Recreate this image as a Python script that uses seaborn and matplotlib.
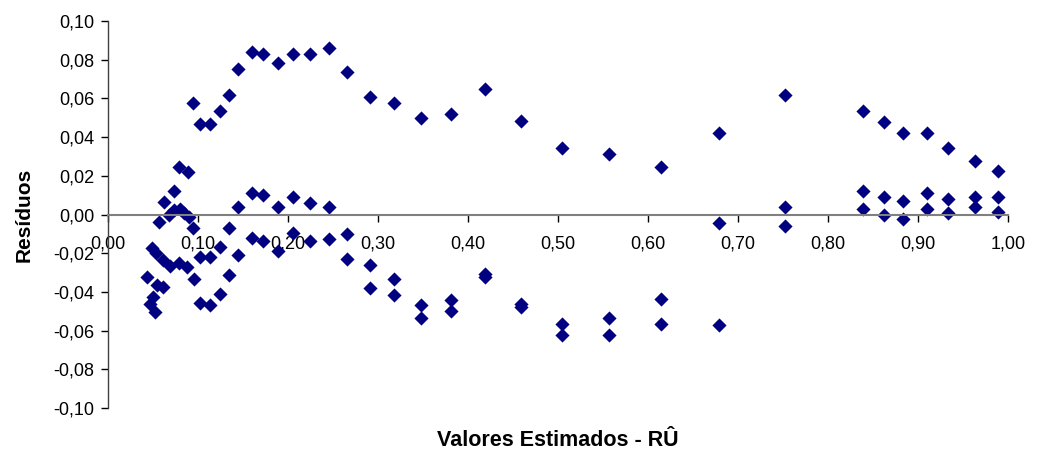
import pandas as pd
import matplotlib
matplotlib.use("Agg")
import matplotlib.pyplot as plt
import seaborn as sns
from matplotlib.ticker import FuncFormatter, MultipleLocator

# valores estimados e residuos
x_sup = [0.0793, 0.0885, 0.094, 0.102, 0.113, 0.124, 0.134, 0.144, 0.160, 0.172, 0.189,
         0.205, 0.224, 0.246, 0.266, 0.291, 0.318, 0.348, 0.381, 0.419, 0.459,
         0.504, 0.557, 0.614, 0.679, 0.752, 0.839, 0.862, 0.884, 0.910, 0.934,
         0.963, 0.989]
res_sup = [0.0246, 0.0221, 0.0577, 0.0467, 0.0467, 0.0537, 0.0615, 0.0753, 0.0841, 0.0829, 0.0784,
           0.0830, 0.0830, 0.0860, 0.0734, 0.0606, 0.0577, 0.0500, 0.0518, 0.0646, 0.0481,
           0.0343, 0.0315, 0.0246, 0.0422, 0.0617, 0.0537, 0.0479, 0.0422, 0.0422, 0.0343,
           0.0276, 0.0226]

x_meio = [0.0737, 0.0626, 0.057, 0.068, 0.0737, 0.080, 0.0848, 0.0904, 0.094,
          0.144, 0.160, 0.172, 0.189, 0.205, 0.224, 0.246, 0.679, 0.752, 0.752,
          0.839, 0.839, 0.862, 0.862, 0.884, 0.884, 0.910, 0.910, 0.934, 0.934,
          0.963, 0.963, 0.989, 0.989]
res_meio = [0.0120, 0.0066, -0.0038, -0.0003, 0.0022, 0.0031, 0.0009, -0.0012, -0.0069,
            0.0040, 0.0110, 0.0100, 0.0040, 0.0091, 0.0062, 0.0040, -0.0046, 0.0040, -0.0058,
            0.0120, 0.0031, 0.0091, 0.0000, 0.0071, -0.0021, 0.0110, 0.0031, 0.0081, 0.0010,
            0.0091, 0.0040, 0.0091, 0.0014]

x_inf = [0.0485, 0.053, 0.0615, 0.069, 0.0793, 0.0874, 0.0956, 0.043, 0.054, 0.0615,
         0.050, 0.0467, 0.052, 0.102, 0.113, 0.124, 0.134, 0.144, 0.134, 0.124,
         0.102, 0.113, 0.160, 0.172, 0.189, 0.205, 0.224, 0.246, 0.266, 0.266,
         0.291, 0.291, 0.318, 0.318, 0.348, 0.348, 0.381, 0.381, 0.419, 0.419,
         0.459, 0.459, 0.504, 0.504, 0.557, 0.557, 0.614, 0.614, 0.679]
res_inf = [-0.0171, -0.0198, -0.0233, -0.0267, -0.0250, -0.0270, -0.0331, -0.0322, -0.0365, -0.0374,
           -0.0425, -0.0460, -0.0503, -0.0219, -0.0219, -0.0167, -0.0072, -0.0207, -0.0310, -0.0408,
           -0.0455, -0.0465, -0.0121, -0.0136, -0.0188, -0.0095, -0.0136, -0.0124, -0.0103, -0.0231,
           -0.0262, -0.0377, -0.0331, -0.0417, -0.0465, -0.0534, -0.0443, -0.0500, -0.0305, -0.0322,
           -0.0462, -0.0478, -0.0563, -0.0620, -0.0534, -0.0620, -0.0434, -0.0563, -0.0572]

df = pd.DataFrame({
    "estimado": x_sup + x_meio + x_inf,
    "residuo": res_sup + res_meio + res_inf,
})

sns.set_style("white")
plt.rcParams["font.family"] = ["Liberation Sans", "DejaVu Sans"]
plt.rcParams["text.color"] = "black"
plt.rcParams["axes.labelcolor"] = "black"
plt.rcParams["xtick.color"] = "black"
plt.rcParams["ytick.color"] = "black"

fig = plt.figure(figsize=(10.39, 4.55), dpi=100)
ax = fig.add_axes([0.104, 0.103, 0.866, 0.851])

sns.scatterplot(data=df, x="estimado", y="residuo", marker="D", s=52,
                color="#000080", edgecolor="#000080", linewidth=0, ax=ax)

ax.set_xlim(0, 1.0)
ax.set_ylim(-0.10, 0.10)
ax.xaxis.set_major_locator(MultipleLocator(0.1))
ax.yaxis.set_major_locator(MultipleLocator(0.02))
virgula = FuncFormatter(lambda v, p: f"{v:.2f}".replace(".", ",").replace("-0,00", "0,00"))
ax.xaxis.set_major_formatter(virgula)
ax.yaxis.set_major_formatter(virgula)

ax.spines["top"].set_visible(False)
ax.spines["right"].set_visible(False)
ax.spines["bottom"].set_position(("data", 0))
ax.spines["bottom"].set_color("#808080")
ax.spines["bottom"].set_linewidth(1.5)
ax.spines["left"].set_color("#404040")
ax.spines["left"].set_linewidth(1.0)

ax.tick_params(axis="x", direction="out", length=5, width=1, color="black",
               labelsize=13, pad=10, bottom=True)
ax.tick_params(axis="y", direction="out", length=5, width=1, color="black",
               labelsize=13, pad=5, left=True)

ax.set_ylabel("Resíduos", fontsize=15, fontweight="bold", labelpad=14)
ax.set_xlabel("")
fig.text(0.537, 0.031, "Valores Estimados - RÛ", ha="center", va="center",
         fontsize=15.5, fontweight="bold")

fig.savefig("out.png", dpi=100)
